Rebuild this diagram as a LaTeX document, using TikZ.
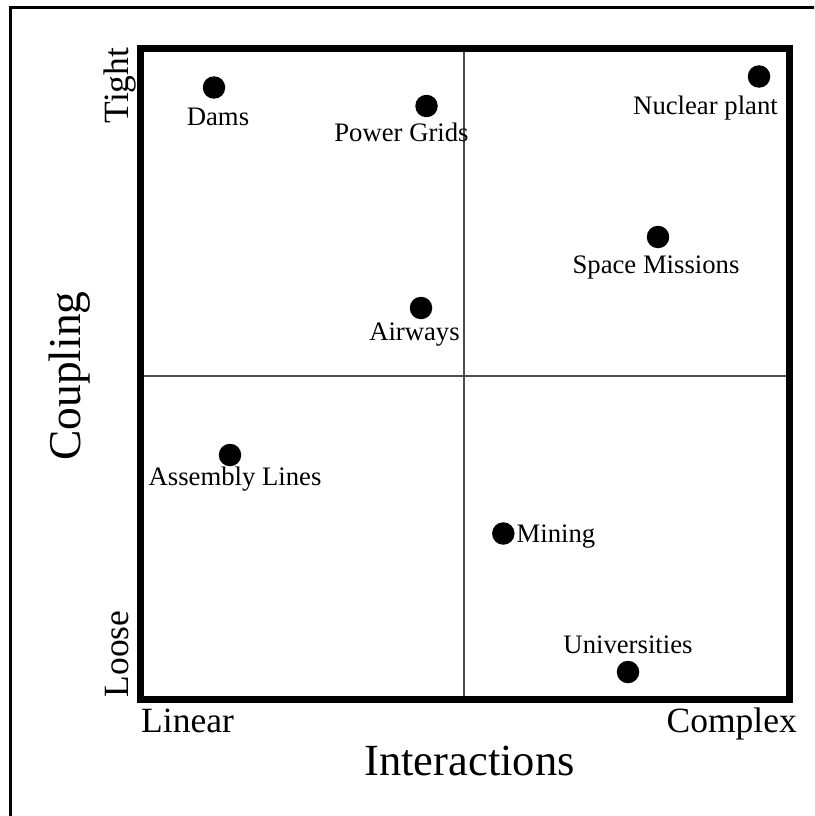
\documentclass[tikz,border=0pt]{standalone}
\usepackage{fontspec}
\setmainfont{Liberation Serif}
\begin{document}
\begin{tikzpicture}[x=1pt,y=-1pt,
  dot/.style={circle,fill=black,inner sep=0pt,minimum size=22.5pt},
  lbl/.style={inner sep=0pt,anchor=base,font=\fontsize{26.7}{30}\selectfont},
  axend/.style={inner sep=0pt,font=\fontsize{35.5}{40}\selectfont},
  axname/.style={inner sep=0pt,anchor=base,font=\fontsize{44.5}{50}\selectfont},
  frameline/.style={line width=7pt},
  divider/.style={line width=1.1pt,draw=black!70}]
\useasboundingbox (0,0) rectangle (814,816);
\clip (0,0) rectangle (814,816);

% page border
\draw[line width=3.3pt] (10.7,830) -- (10.7,7.5) -- (830,7.5);

% quadrant dividers and frame
\coordinate (tl) at (140,49);
\coordinate (br) at (789,699);
\coordinate (mt) at (464,49);
\coordinate (mb) at (464,699);
\coordinate (ml) at (140,376);
\coordinate (mr) at (789,376);
\draw[divider] (mt) -- (mb);
\draw[divider] (ml) -- (mr);
\draw[frameline] (tl) rectangle (br);

% systems
\node[dot] (dams) at (214,87.5) {};
\node[lbl] (damsl) at (218,125) {Dams};
\node[dot] (grids) at (426.5,106) {};
\node[lbl] (gridsl) at (401.5,141.5) {Power Grids};
\node[dot] (nuke) at (759,76.5) {};
\node[lbl] (nukel) at (705.5,114) {Nuclear plant};
\node[dot] (space) at (658,237) {};
\node[lbl] (spacel) at (656,273) {Space Missions};
\node[dot] (air) at (421,308) {};
\node[lbl] (airl) at (414.5,340) {Airways};
\node[dot] (assembly) at (230,455) {};
\node[lbl] (assemblyl) at (235,485) {Assembly Lines};
\node[dot] (mining) at (503.3,533.5) {};
\node[lbl,anchor=base west] (miningl) at (516.5,542) {Mining};
\node[dot] (uni) at (628,672) {};
\node[lbl] (unil) at (628,653) {Universities};

% axis labels
\node[axend,anchor=base,rotate=90] (tight) at (128.3,85.5) {Tight};
\node[axend,anchor=base,rotate=90] (loose) at (128.3,654) {Loose};
\node[axname,rotate=90,font=\fontsize{45.5}{50}\selectfont] (coupling) at (80,376) {Coupling};
\node[axend,anchor=base west] (linear) at (141,732) {Linear};
\node[axend,anchor=base east] (complex) at (797,732) {Complex};
\node[axname] (interactions) at (469.5,775) {Interactions};
\end{tikzpicture}
\end{document}
